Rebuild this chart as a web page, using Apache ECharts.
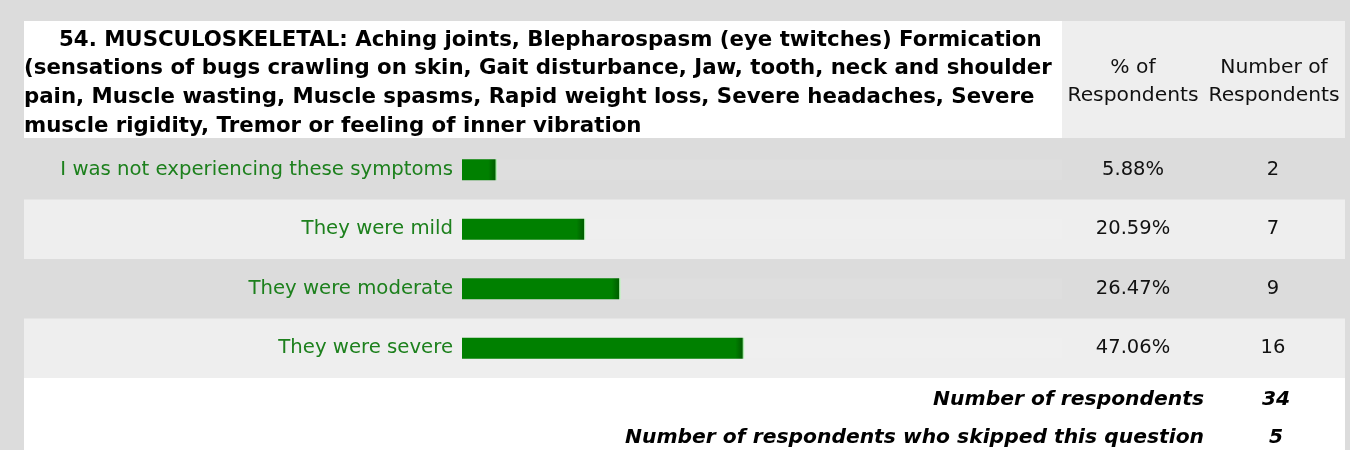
<!DOCTYPE html>
<html>
<head>
<meta charset="utf-8">
<script src="https://cdn.jsdelivr.net/npm/echarts@6/dist/echarts.min.js"></script>
<style>
  html, body { margin: 0; padding: 0; background: #dcdcdc; }
  #chart { width: 1350px; height: 450px; }
</style>
</head>
<body>
<div id="chart"></div>
<script>
// Question text, one entry per printed line
const questionLines = [
  '54. MUSCULOSKELETAL: Aching joints, Blepharospasm (eye twitches) Formication',
  '(sensations of bugs crawling on skin, Gait disturbance, Jaw, tooth, neck and shoulder',
  'pain, Muscle wasting, Muscle spasms, Rapid weight loss, Severe headaches, Severe',
  'muscle rigidity, Tremor or feeling of inner vibration'
];
// Answer options and results
const answers = [
  'I was not experiencing these symptoms',
  'They were mild',
  'They were moderate',
  'They were severe'
];
const percents = [5.88, 20.59, 26.47, 47.06];
const counts = [2, 7, 9, 16];
// Column headings and totals
const columnHeads = ['% of\nRespondents', 'Number of\nRespondents'];
const totalLabels = ['Number of respondents', 'Number of respondents who skipped this question'];
const totalValues = [34, 5];

const FONT = 'Tahoma, "DejaVu Sans", sans-serif';
const GREEN = '#008000';
const LABEL_GREEN = '#1d801d';

const chart = echarts.init(document.getElementById('chart'), null, { renderer: 'canvas' });

// Table layout
const W = 1350, H = 450;
const tableLeft = 24, tableRight = 1345;
const gridLeft = 462, gridRight = 1062;
const rowsTop = 140, rowsBottom = 378;
const rowH = (rowsBottom - rowsTop) / answers.length;
const barAreaWidth = gridRight - gridLeft;

const graphics = [];
// light bands on alternate rows
answers.forEach((a, i) => {
  if (i % 2 === 1) {
    graphics.push({
      type: 'rect', silent: true, z: -10,
      shape: { x: tableLeft, y: rowsTop + i * rowH, width: tableRight - tableLeft, height: rowH },
      style: { fill: '#eeeeee' }
    });
  }
});
// question header cell
graphics.push({
  type: 'rect', silent: true, z: -10,
  shape: { x: tableLeft, y: 21, width: gridRight - tableLeft, height: 117 },
  style: { fill: '#ffffff' }
});
// column heading cell
graphics.push({
  type: 'rect', silent: true, z: -10,
  shape: { x: gridRight, y: 21, width: tableRight - gridRight, height: 117 },
  style: { fill: '#eeeeee' }
});
// totals area
graphics.push({
  type: 'rect', silent: true, z: -10,
  shape: { x: tableLeft, y: rowsBottom, width: tableRight - tableLeft, height: H - rowsBottom },
  style: { fill: '#ffffff' }
});
// question text
questionLines.forEach((line, i) => {
  graphics.push({
    type: 'text', silent: true,
    style: {
      x: i === 0 ? 59 : 24, y: 40 + i * 28.7,
      text: line, fill: '#000', font: 'bold 21.3px ' + FONT,
      textAlign: 'left', textVerticalAlign: 'middle'
    }
  });
});
// column headings
const colCenters = [1133, 1274];
columnHeads.forEach((h, i) => {
  graphics.push({
    type: 'text', silent: true,
    style: {
      x: colCenters[i], y: 82, text: h, fill: '#111', font: '20.3px ' + FONT,
      lineHeight: 28, textAlign: 'center', textVerticalAlign: 'middle'
    }
  });
});
// totals
totalLabels.forEach((t, i) => {
  const y = 400 + i * 38;
  graphics.push({
    type: 'text', silent: true,
    style: {
      x: 1204, y: y, text: t, fill: '#000', font: 'italic bold 20.3px ' + FONT,
      textAlign: 'right', textVerticalAlign: 'middle'
    }
  });
  graphics.push({
    type: 'text', silent: true,
    style: {
      x: 1276, y: y, text: String(totalValues[i]), fill: '#000', font: 'italic bold 20.3px ' + FONT,
      textAlign: 'center', textVerticalAlign: 'middle'
    }
  });
});

// bar fill: solid green with a darker rim and a pale edge at the bar's end
function barFill(params) {
  const w = Math.max(params.value / 100 * barAreaWidth, 10);
  const f = px => Math.max(0, Math.min(1, (w - px) / w));
  return new echarts.graphic.LinearGradient(0, 0, 1, 0, [
    { offset: 0, color: GREEN },
    { offset: f(9), color: GREEN },
    { offset: f(5), color: '#006c00' },
    { offset: f(2), color: '#005f00' },
    { offset: f(1.6), color: '#8fdc8f' },
    { offset: 1, color: '#d4f4d4' }
  ]);
}

const option = {
  animation: false,
  backgroundColor: '#dcdcdc',
  grid: { left: gridLeft, right: W - gridRight, top: rowsTop, bottom: H - rowsBottom, containLabel: false },
  xAxis: { type: 'value', min: 0, max: 100, show: false },
  yAxis: [
    {
      type: 'category', data: answers, inverse: true,
      axisLine: { show: false }, axisTick: { show: false }, splitLine: { show: false },
      axisLabel: { color: LABEL_GREEN, fontFamily: FONT, fontSize: 19.7, margin: 9 }
    },
    {
      type: 'category', data: answers, inverse: true, position: 'right',
      axisLine: { show: false }, axisTick: { show: false }, splitLine: { show: false },
      axisLabel: {
        margin: 1,
        formatter: (v, idx) => '{p|' + percents[idx].toFixed(2) + '%}{n|' + counts[idx] + '}',
        rich: {
          p: { width: 140, align: 'center', color: '#111', fontFamily: FONT, fontSize: 19.5 },
          n: { width: 140, align: 'center', color: '#111', fontFamily: FONT, fontSize: 19.5 }
        }
      }
    }
  ],
  series: [{
    type: 'bar', data: percents, barWidth: 21,
    itemStyle: { color: barFill },
    showBackground: true,
    backgroundStyle: { color: 'rgba(255,255,255,0.07)' }
  }],
  graphic: graphics
};
chart.setOption(option);
</script>
</body>
</html>
